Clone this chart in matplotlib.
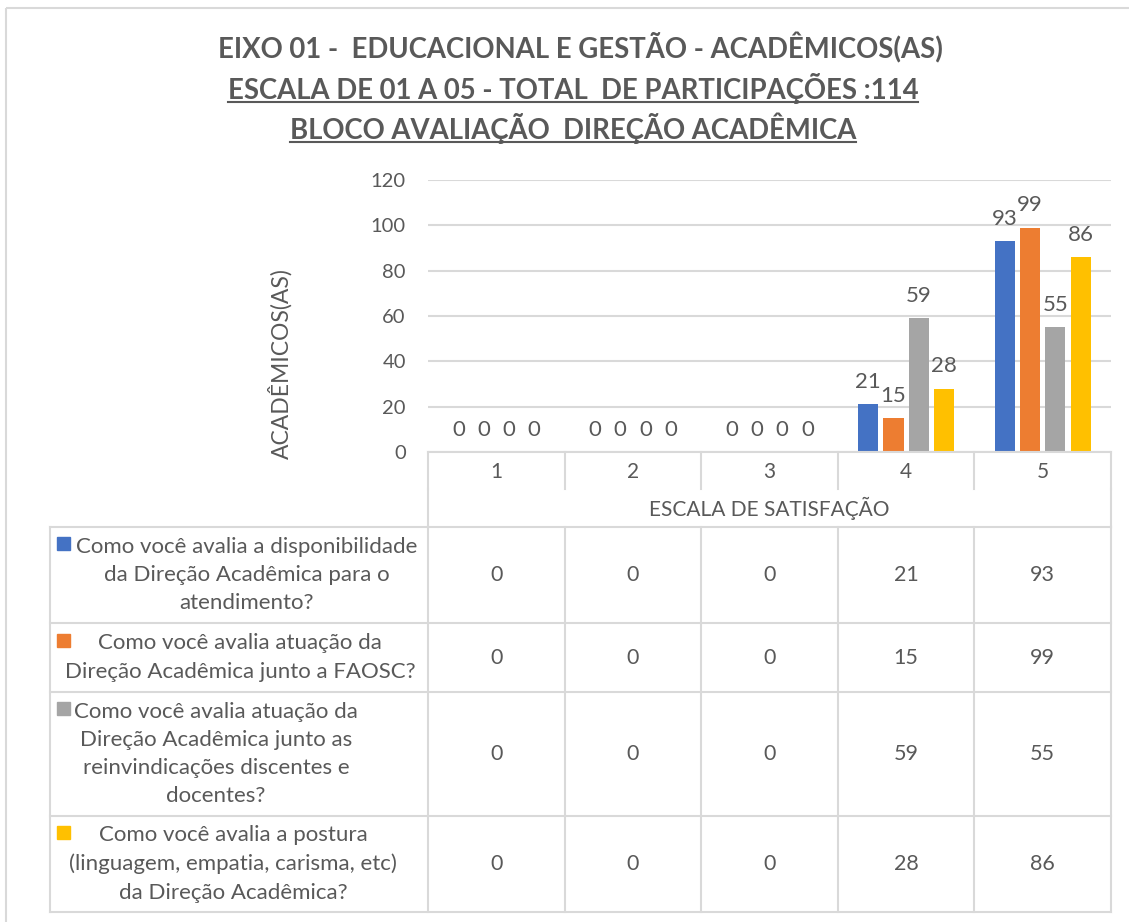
import matplotlib.pyplot as plt
import matplotlib.transforms as mtransforms
from matplotlib.patches import Rectangle
import numpy as np

# chart values
scale_points = ["1", "2", "3", "4", "5"]
q_disponibilidade = [0, 0, 0, 21, 93]
q_atuacao_faosc = [0, 0, 0, 15, 99]
q_reinvindicacoes = [0, 0, 0, 59, 55]
q_postura = [0, 0, 0, 28, 86]

series = [q_disponibilidade, q_atuacao_faosc, q_reinvindicacoes, q_postura]
series_labels = [
    "Como você avalia a disponibilidade\nda Direção Acadêmica para o\natendimento?",
    "Como você avalia atuação da\nDireção Acadêmica junto a FAOSC?",
    "Como você avalia atuação da\nDireção Acadêmica junto as\nreinvindicações discentes e\ndocentes?",
    "Como você avalia a postura\n(linguagem, empatia, carisma, etc)\nda Direção Acadêmica?",
]
colors = ["#4472C4", "#ED7D31", "#A5A5A5", "#FFC000"]

title_lines = [
    "EIXO 01 -  EDUCACIONAL E GESTÃO - ACADÊMICOS(AS)",
    "ESCALA DE 01 A 05 - TOTAL  DE PARTICIPAÇÕES :114",
    "BLOCO AVALIAÇÃO  DIREÇÃO ACADÊMICA",
]
y_label = "ACADÊMICOS(AS)"
x_label = "ESCALA DE SATISFAÇÃO"

W, H = 1129, 922
TXT = "#595959"
GRID = "#D9D9D9"
FONT = "Lato"
plt.rcParams["font.family"] = [FONT, "DejaVu Sans"]

fig = plt.figure(figsize=(W / 100, H / 100), dpi=100)


def fx(px):
    return px / W


def fy(py):
    return 1 - py / H


# plot area
left, right, top, bottom = 428, 1111, 180, 452
ax = fig.add_axes([fx(left), fy(bottom), fx(right - left), (bottom - top) / H])
ax.set_xlim(0.5, 5.5)
ax.set_ylim(0, 120)
ax.set_yticks(np.arange(0, 121, 20))
ax.yaxis.grid(True, color=GRID, lw=1.5)
ax.set_axisbelow(True)
for s in ax.spines.values():
    s.set_visible(False)
ax.tick_params(axis="y", length=0, pad=16, labelsize=14.5, labelcolor=TXT)
x = np.arange(1, len(scale_points) + 1)
ax.set_xticks(x, scale_points)
ax.tick_params(axis="x", length=0, pad=7, labelsize=15, labelcolor=TXT)
ax.set_xlabel(x_label, fontsize=15, color=TXT, labelpad=11)
ax.set_ylabel(y_label, fontsize=16.5, color=TXT)
# label sits lower than the axes centre in the original
ax.yaxis.set_label_coords((293 - left) / (right - left), (bottom - 364) / (bottom - top))

step = 0.185
width = 0.147
for i, vals in enumerate(series):
    pos = x + (i - 1.5) * step
    bars = ax.bar(pos, vals, width, color=colors[i], zorder=3)
    ax.bar_label(bars, labels=[str(v) for v in vals], padding=9,
                 fontsize=16, color=TXT)

# overlay for the data table, pixel coords
tax = fig.add_axes([0, 0, 1, 1], facecolor="none")
tax.set_xlim(0, W)
tax.set_ylim(H, 0)
tax.axis("off")
blend = mtransforms.blended_transform_factory(ax.transData, tax.transData)

# outer chart border
tax.add_patch(Rectangle((6, 8), W + 20, H + 20, fill=False, ec=GRID, lw=1.5))

header_top, header_mid, table_top = 452, 489, 527
row_edges = [527, 623, 692, 816, 912]
label_left = 50
edges = np.arange(0.5, len(scale_points) + 1, 1.0)

lw = 1.5
tax.plot([left, right], [header_top, header_top], color=GRID, lw=lw)
for e in edges:
    tax.plot([e, e], [header_top, header_mid], color=GRID, lw=lw, transform=blend)
for e in (edges[0], edges[-1]):
    tax.plot([e, e], [header_mid, table_top], color=GRID, lw=lw, transform=blend)
for r in row_edges:
    tax.plot([label_left, right], [r, r], color=GRID, lw=lw)
for e in edges:
    tax.plot([e, e], [row_edges[0], row_edges[-1]], color=GRID, lw=lw, transform=blend)
tax.plot([label_left, label_left], [row_edges[0], row_edges[-1]], color=GRID, lw=lw)

label_cx = [247, 240, 216, 233]
pitch = 29
for i, vals in enumerate(series):
    y0, y1 = row_edges[i], row_edges[i + 1]
    cy = (y0 + y1) / 2
    n = series_labels[i].count("\n") + 1
    tax.text(label_cx[i], cy, series_labels[i], ha="center", va="center",
             multialignment="center", fontsize=16, color=TXT, linespacing=1.52)
    first_line = cy - (n - 1) / 2 * pitch
    tax.add_patch(Rectangle((57, first_line - 9), 13, 13, color=colors[i]))
    for j, v in enumerate(vals):
        tax.text(x[j], cy, str(v), ha="center", va="center", fontsize=15.5,
                 color=TXT, transform=blend)

# titles, lines 2 and 3 underlined
title_y = [48, 88, 128]
title_cx = [580, 573, 573]
texts = []
for k, line in enumerate(title_lines):
    t = tax.text(title_cx[k], title_y[k], line, ha="center", va="center",
                 fontsize=19.8, fontweight="bold", color=TXT)
    texts.append(t)
fig.canvas.draw()
inv = tax.transData.inverted()
for t, ty in zip(texts[1:], title_y[1:]):
    bb = t.get_window_extent()
    (x0, _), (x1, _) = inv.transform([[bb.x0, bb.y0], [bb.x1, bb.y1]])
    tax.plot([x0, x1], [ty + 14, ty + 14], color=TXT, lw=1.5)

fig.savefig("out.png", dpi=100)
